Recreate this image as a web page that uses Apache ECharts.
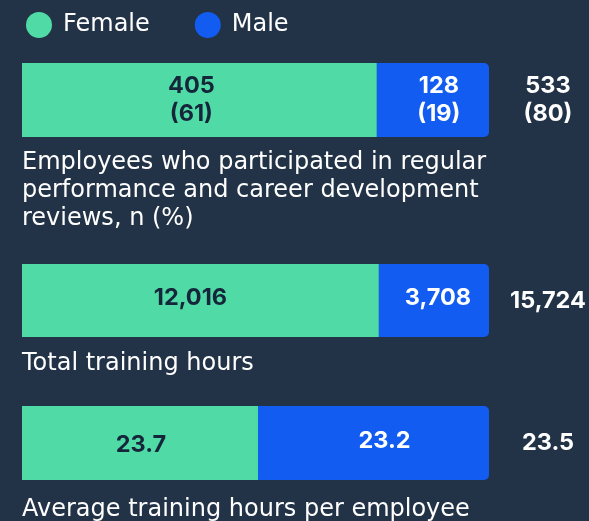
<!DOCTYPE html>
<html>
<head>
<meta charset="utf-8">
<script src="https://cdn.jsdelivr.net/npm/echarts@6/dist/echarts.min.js"></script>
<style>
  html, body { margin: 0; padding: 0; background: #223347; }
  #chart { width: 589px; height: 521px; }
</style>
</head>
<body>
<div id="chart"></div>
<script>
// data
const metrics = [
  'Employees who participated in regular\nperformance and career development\nreviews, n (%)',
  'Total training hours',
  'Average training hours per employee'
];
const femaleValues = [405, 12016, 23.7];
const maleValues = [128, 3708, 23.2];
const femaleLabels = ['405\n(61)', '12,016', '23.7'];
const maleLabels = ['128\n(19)', '3,708', '23.2'];
const totalLabels = ['533\n(80)', '15,724', '23.5'];

const GREEN = '#50dba6';
const BLUE = '#125cf2';
const DARK = '#16263a';
const textFont = 'DejaVu Sans';
const numFont = 'Inter';

// layout of each row
const gridTops = [63, 264, 406];
const gridHeights = [74, 73, 74];
const titleTops = [149, 350, 496];
// small nudges of the in-bar labels, as placed in the original
const femaleNudge = [[-8, 0], [-10, -3], [1, 2]];
const maleNudge = [[6, 0], [4, -3], [11, -2]];

const chart = echarts.init(document.getElementById('chart'));

const numStyle = { fontFamily: numFont, fontWeight: 'bold', fontSize: 23.5, lineHeight: 28 };

const grids = [], xAxes = [], yAxes = [], series = [], titles = [];
metrics.forEach((name, i) => {
    grids.push({ left: 22, width: 467, top: gridTops[i], height: gridHeights[i] });
    xAxes.push({ gridIndex: i, type: 'value', min: 0, max: femaleValues[i] + maleValues[i], show: false });
    yAxes.push({ gridIndex: i, type: 'category', data: [name], show: false });
    titles.push({
        text: name, left: 22, top: titleTops[i], padding: 0,
        textStyle: { color: '#ffffff', fontFamily: textFont, fontWeight: 'normal', fontSize: 24, lineHeight: 28 }
    });
    series.push({
        name: 'Female', type: 'bar', stack: 's' + i, xAxisIndex: i, yAxisIndex: i,
        data: [femaleValues[i]], barWidth: '100%',
        itemStyle: { color: GREEN },
        label: Object.assign({
            show: true, position: 'inside', offset: femaleNudge[i],
            formatter: () => femaleLabels[i], color: DARK
        }, numStyle)
    });
    series.push({
        name: 'Male', type: 'bar', stack: 's' + i, xAxisIndex: i, yAxisIndex: i,
        data: [maleValues[i]], barWidth: '100%',
        itemStyle: { color: BLUE, borderRadius: [0, 5, 5, 0] },
        label: Object.assign({
            show: true, position: 'inside', offset: maleNudge[i],
            formatter: () => maleLabels[i], color: '#ffffff'
        }, numStyle)
    });
    // zero-width bar that carries the total label
    series.push({
        type: 'bar', stack: 's' + i, xAxisIndex: i, yAxisIndex: i,
        data: [0], barWidth: '100%', silent: true,
        label: Object.assign({
            show: true, position: 'right', distance: 59, align: 'center',
            formatter: () => totalLabels[i], color: '#ffffff'
        }, numStyle)
    });
});

chart.setOption({
    backgroundColor: '#223347',
    animation: false,
    title: titles,
    legend: {
        data: ['Female', 'Male'],
        left: 26, top: 12, padding: 0,
        icon: 'circle', itemWidth: 26, itemHeight: 26, itemGap: 45,
        textStyle: { color: '#ffffff', fontFamily: textFont, fontSize: 24, padding: [0, 0, 0, 6] }
    },
    grid: grids,
    xAxis: xAxes,
    yAxis: yAxes,
    series: series
});
</script>
</body>
</html>
